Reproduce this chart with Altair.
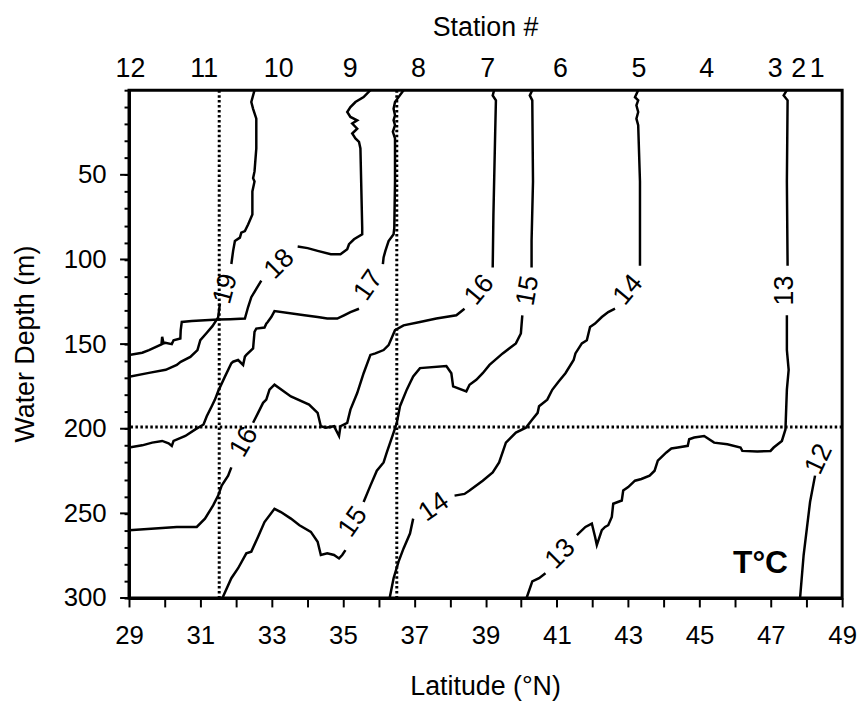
import altair as alt
import pandas as pd

FONT = "Liberation Sans, Arial, Helvetica, sans-serif"

# ---- contour segments (latitude °N, depth m) ----
c19a_lat = [32.52, 32.43, 32.48, 32.57, 32.57, 32.52, 32.48, 32.52, 32.46, 32.46, 32.34, 32.25, 32.15, 32.11, 31.97, 31.92, 31.87]
c19a_dep = [0, 7.0, 11.0, 16.8, 34.4, 48.0, 52.0, 53.9, 59.8, 73.4, 79.3, 83.2, 84.2, 87.1, 89.1, 94.9, 102.7]
c19b_lat = [31.55, 31.50, 31.34, 31.17, 31.00, 30.92, 30.72, 30.45, 30.34, 30.03, 29.56, 29.0]
c19b_dep = [126.0, 134.2, 139.4, 143.6, 147.7, 153.5, 157.6, 160.5, 162.3, 165.2, 167.0, 169.3]

c18a_lat = [35.77, 35.58, 35.35, 35.21, 35.12, 35.21, 35.40, 35.26, 35.40, 35.26, 35.35, 35.45, 35.49, 35.54, 35.54, 35.31, 35.17, 35.12, 34.93, 34.66, 34.29, 34.01, 33.73]
c18a_dep = [0, 4.1, 7.0, 10.0, 12.9, 15.8, 17.8, 19.7, 22.7, 25.6, 28.5, 30.5, 34.4, 81.3, 85.1, 88.1, 91.0, 93.9, 96.9, 96.9, 94.9, 93.3, 92.4]
c18b_lat = [32.71, 32.57, 32.43, 32.34, 32.25, 31.84, 31.50, 30.76, 30.48, 30.45, 30.44, 30.25, 30.20, 30.02, 29.97, 29.93, 29.91, 29.56, 29.37, 29.0]
c18b_dep = [112.5, 117.4, 122.3, 128.1, 134.9, 135.3, 135.5, 136.3, 136.9, 141.8, 146.7, 147.7, 150.0, 149.2, 149.6, 145.7, 150.2, 153.5, 155.1, 156.4]

c17a_lat = [36.70, 36.56, 36.46, 36.42, 36.46, 36.42, 36.46, 36.40, 36.46, 36.46, 36.44, 36.42, 36.28, 36.19, 36.14, 36.12]
c17a_dep = [0, 4.1, 7.0, 11.0, 14.8, 17.8, 20.7, 24.6, 28.5, 53.9, 81.3, 85.1, 89.1, 94.9, 98.8, 102.7]
c17b_lat = [35.45, 35.21, 35.03, 34.84, 34.56, 34.29, 33.92, 33.08, 32.99, 32.89, 32.85, 32.80, 32.57, 32.52, 32.48, 32.29, 32.25, 32.20, 32.06, 31.92, 31.87, 31.69, 31.50, 31.41, 31.32, 31.18, 31.09, 30.86, 30.58, 30.25, 30.20, 30.11, 29.93, 29.65, 29.37, 29.0]
c17b_dep = [129.1, 131.1, 133.0, 134.9, 134.9, 134.0, 133.0, 130.5, 134.0, 136.9, 137.9, 140.2, 140.8, 142.8, 152.5, 156.4, 157.4, 162.3, 159.4, 160.4, 161.3, 169.2, 177.9, 182.8, 186.7, 192.6, 197.5, 200.4, 204.3, 207.2, 210.2, 208.6, 207.2, 208.2, 209.8, 211.1]

c16a_lat = [39.24, 39.20, 39.29, 39.27, 39.22, 39.20]
c16a_dep = [0, 3.1, 6.0, 24.6, 73.4, 104.7]
c16b_lat = [38.41, 38.18, 37.62, 37.16, 36.70, 36.46, 36.28, 36.14, 35.91, 35.77, 35.58, 35.40, 35.21, 35.12, 34.93, 34.89, 34.75, 34.52, 34.38, 34.29, 34.05, 33.54, 33.08, 32.94, 32.85, 32.76, 32.62, 32.48]
c16b_dep = [129.1, 133.0, 134.9, 136.9, 138.9, 141.8, 150.6, 153.5, 155.5, 156.4, 167.2, 178.9, 188.7, 196.5, 198.5, 204.3, 198.5, 199.4, 198.5, 190.6, 185.7, 180.9, 174.0, 176.9, 182.8, 184.7, 190.6, 196.5]
c16c_lat = [31.87, 31.78, 31.60, 31.50, 31.36, 31.13, 30.90, 30.34, 29.93, 29.0]
c16c_dep = [222.8, 227.8, 233.6, 239.5, 245.3, 253.1, 258.0, 258.0, 258.6, 260.0]

c15a_lat = [40.31, 40.24, 40.31, 40.33, 40.29, 40.29]
c15a_dep = [0, 3.1, 6.0, 53.9, 89.1, 104.7]
c15b_lat = [40.03, 39.99, 39.85, 39.48, 39.11, 38.92, 38.74, 38.55, 38.46, 38.09, 38.04, 37.90, 37.16, 36.97, 36.88, 36.79, 36.60, 36.51, 36.42, 36.23, 36.14, 35.95, 35.77, 35.58]
c15b_dep = [133.0, 143.7, 149.6, 155.5, 162.3, 167.2, 171.1, 174.0, 177.9, 175.0, 167.2, 162.9, 164.2, 169.1, 173.0, 176.9, 186.7, 196.5, 202.3, 214.0, 219.9, 224.8, 233.6, 243.3]
c15c_lat = [35.07, 34.98, 34.89, 34.75, 34.56, 34.38, 34.29, 34.10, 33.78, 33.54, 33.26, 33.08, 32.80, 32.62, 32.43, 32.29, 32.06, 31.87, 31.62]
c15c_dep = [271.7, 274.6, 276.6, 274.6, 273.6, 274.6, 266.8, 260.9, 257.0, 253.1, 249.2, 247.3, 255.1, 263.8, 272.6, 273.6, 282.4, 288.3, 300]

c14a_lat = [43.28, 43.19, 43.28, 43.23, 43.28, 43.23, 43.28, 43.33, 43.33]
c14a_dep = [0, 4.1, 6.0, 9.0, 12.9, 16.8, 20.7, 53.9, 103.7]
c14b_lat = [42.63, 42.44, 42.26, 42.07, 41.93, 41.84, 41.70, 41.52, 41.47, 41.24, 41.05, 40.87, 40.73, 40.50, 40.46, 40.31, 40.13, 39.85, 39.57, 39.38, 39.20, 38.92, 38.55, 38.41, 38.13]
c14b_dep = [129.1, 131.1, 134.0, 137.9, 139.9, 147.7, 149.6, 155.5, 159.4, 167.2, 172.1, 177.0, 182.8, 186.7, 190.6, 194.5, 199.4, 202.3, 208.2, 219.9, 225.8, 230.7, 236.5, 238.5, 239.5]
c14c_lat = [36.97, 36.88, 36.70, 36.56, 36.42, 36.31]
c14c_dep = [253.1, 261.9, 270.7, 278.5, 288.3, 300]

c13a_lat = [47.45, 47.36, 47.47, 47.45, 47.47]
c13a_dep = [0, 3.1, 6.0, 53.9, 103.7]
c13b_lat = [47.45, 47.45, 47.50, 47.45, 47.41, 47.31, 47.08, 46.99, 46.62, 46.20, 46.15, 45.78, 45.41, 45.13, 44.85, 44.71, 44.67, 44.39, 44.21, 44.07, 43.83, 43.74, 43.60, 43.37, 43.19, 43.00, 42.86, 42.82, 42.58, 42.54, 42.44, 42.35, 42.26, 42.12, 42.07, 41.98, 41.80, 41.56]
c13b_dep = [133.0, 153.5, 165.2, 176.9, 200.4, 207.2, 211.1, 213.1, 213.5, 213.1, 211.1, 209.2, 208.2, 204.3, 205.2, 206.2, 210.1, 211.1, 211.7, 214.0, 218.9, 224.8, 227.7, 229.7, 230.7, 234.5, 236.5, 242.4, 244.3, 252.1, 257.0, 258.0, 259.9, 268.7, 263.8, 256.0, 258.0, 262.9]
c13c_lat = [40.68, 40.50, 40.31, 40.15]
c13c_dep = [285.4, 288.3, 290.2, 300]

c12_lat = [48.24, 48.10, 48.01, 47.92, 47.82]
c12_dep = [227.7, 243.3, 259.0, 274.6, 300]

# ---- contour labels ----
label_text = ["19", "18", "17", "16", "15", "14", "13", "16", "15", "14", "13", "12"]
label_lat = [31.71, 33.22, 35.72, 38.83, 40.19, 43.00, 47.41, 32.23, 35.28, 37.55, 41.10, 48.35]
label_dep = [117.4, 102.7, 115.4, 118.0, 118.4, 118.0, 118.4, 207.8, 255.1, 246.3, 274.0, 218.0]
label_angle = [285, 315, 305, 310, 280, 310, 270, 300, 305, 325, 315, 295]

# ---- stations (top axis) ----
station_names = ["12", "11", "10", "9", "8", "7", "6", "5", "4", "3", "2", "1"]
station_lat = [29.04, 31.11, 33.20, 35.20, 37.12, 39.06, 41.10, 43.30, 45.20, 47.12, 47.78, 48.30]

# ---- reference lines ----
ref_lat = [31.53, 36.51]
ref_depth = [199.0]

segs = {
    "19a": (c19a_lat, c19a_dep), "19b": (c19b_lat, c19b_dep),
    "18a": (c18a_lat, c18a_dep), "18b": (c18b_lat, c18b_dep),
    "17a": (c17a_lat, c17a_dep), "17b": (c17b_lat, c17b_dep),
    "16a": (c16a_lat, c16a_dep), "16b": (c16b_lat, c16b_dep), "16c": (c16c_lat, c16c_dep),
    "15a": (c15a_lat, c15a_dep), "15b": (c15b_lat, c15b_dep), "15c": (c15c_lat, c15c_dep),
    "14a": (c14a_lat, c14a_dep), "14b": (c14b_lat, c14b_dep), "14c": (c14c_lat, c14c_dep),
    "13a": (c13a_lat, c13a_dep), "13b": (c13b_lat, c13b_dep), "13c": (c13c_lat, c13c_dep),
    "12": (c12_lat, c12_dep),
}
rows = []
for name, (la, de) in segs.items():
    for i, (a, d) in enumerate(zip(la, de)):
        rows.append({"seg": name, "i": i, "lat": a, "depth": d})
line_df = pd.DataFrame(rows)

lab_df = pd.DataFrame({"text": label_text, "lat": label_lat, "depth": label_dep, "angle": label_angle})
st_df = pd.DataFrame({"text": station_names, "lat": station_lat})
vref_df = pd.DataFrame({"lat": ref_lat})
href_df = pd.DataFrame({"depth": ref_depth})
major_df = pd.DataFrame({"depth": [50, 100, 150, 200, 250, 300]})
tc_df = pd.DataFrame({"text": ["T°C"], "lat": [46.71], "depth": [279.5]})

TXT = 27
xscale = alt.Scale(domain=[29, 49], nice=False, zero=False)
yscale = alt.Scale(domain=[0, 300], reverse=True, nice=False, zero=False)
xaxis = alt.Axis(values=list(range(29, 50)),
                 labelExpr="datum.value % 2 == 1 ? datum.label : ''",
                 title=None, grid=False, tickSize=9, labelPadding=16,
                 labelFlush=False, labelOverlap=False)
yaxis = alt.Axis(values=list(range(0, 301, 10)),
                 labelExpr="(datum.value % 50 == 0 && datum.value > 0) ? datum.label : ''",
                 title=None, grid=False, tickSize=5, labelPadding=18,
                 labelFlush=False, labelOverlap=False)
X = alt.X("lat:Q", scale=xscale, axis=xaxis)
Y = alt.Y("depth:Q", scale=yscale, axis=yaxis)

dots_v = alt.Chart(vref_df).mark_rule(color="black", strokeWidth=3, strokeDash=[2.5, 2.5]).encode(x=X)
dots_h = alt.Chart(href_df).mark_rule(color="black", strokeWidth=3, strokeDash=[2.5, 2.5]).encode(y=Y)

lines = alt.Chart(line_df).mark_line(color="black", strokeWidth=2.5, clip=True).encode(
    x=X, y=Y, detail="seg:N", order="i:Q")

labels = alt.Chart(lab_df).mark_text(font=FONT, fontSize=TXT, color="black",
                                     align="center", baseline="middle").encode(
    x=X, y=Y, text="text:N", angle=alt.Angle("angle:Q", scale=None))

majors = alt.Chart(major_df).mark_rule(color="black", strokeWidth=2).encode(
    y=Y, x=alt.value(-9), x2=alt.value(0))

stations = alt.Chart(st_df).mark_text(font=FONT, fontSize=TXT, color="black",
                                      align="center", baseline="middle").encode(
    x=X, y=alt.value(-21), text="text:N")

tc = alt.Chart(tc_df).mark_text(font=FONT, fontSize=32, fontWeight="bold", color="black",
                                align="center", baseline="middle").encode(
    x=X, y=Y, text="text:N")

top_title = alt.Chart(pd.DataFrame({"t": ["Station #"]})).mark_text(
    font=FONT, fontSize=TXT, color="black", align="center", baseline="middle").encode(
    x=alt.value(359.5), y=alt.value(-63), text="t:N")
x_title = alt.Chart(pd.DataFrame({"t": ["Latitude (°N)"]})).mark_text(
    font=FONT, fontSize=TXT, color="black", align="center", baseline="middle").encode(
    x=alt.value(359.5), y=alt.value(602), text="t:N")
y_title = alt.Chart(pd.DataFrame({"t": ["Water Depth (m)"]})).mark_text(
    font=FONT, fontSize=TXT, color="black", align="center", baseline="middle", angle=270).encode(
    x=alt.value(-104), y=alt.value(256), text="t:N")

chart = alt.layer(
    dots_v, dots_h, lines, labels, majors, stations, tc, top_title, x_title, y_title
).properties(
    width=719, height=512,
    padding={"left": 122, "top": 80, "right": 18, "bottom": 105},
    autosize=alt.AutoSizeParams(type="none"),
).configure_view(
    stroke="black", strokeWidth=3
).configure_axis(
    domainColor="black", domainWidth=3, tickColor="black", tickWidth=2,
    labelColor="black", labelFont=FONT, labelFontSize=26
)

chart.save("out.html", embed_options={"renderer": "svg", "actions": False})
